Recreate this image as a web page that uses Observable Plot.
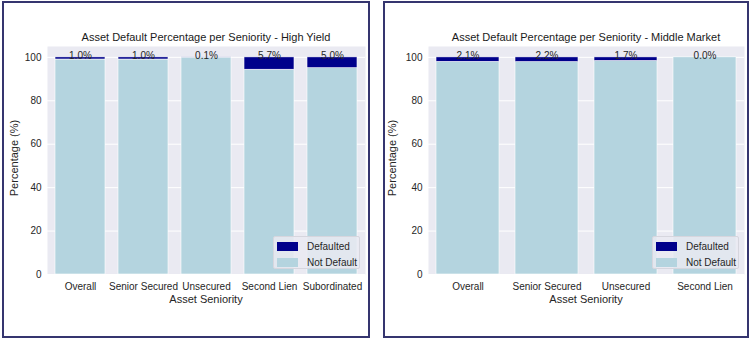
<!DOCTYPE html>
<html>
<head>
<meta charset="utf-8">
<script src="https://cdn.jsdelivr.net/npm/d3@7"></script>
<script src="https://cdn.jsdelivr.net/npm/@observablehq/plot@0.6"></script>
<style>
  html, body { margin: 0; padding: 0; background: #fff; }
  #root { position: relative; width: 752px; height: 340px; overflow: hidden; font-family: "Liberation Sans", Arial, sans-serif; }
  .panel { position: absolute; box-sizing: border-box; border: 2px solid #35356f; }
  .chart { position: absolute; top: 0; }
  .title { position: absolute; font-size: 11px; color: #1a1a1a; white-space: nowrap; transform: translate(-50%, -50%); }
  .xlabel { position: absolute; font-size: 11px; color: #262626; white-space: nowrap; transform: translate(-50%, -50%); }
  .ylabel { position: absolute; font-size: 11px; color: #262626; white-space: nowrap; transform: translate(-50%, -50%) rotate(-90deg); }
  .legend { position: absolute; box-sizing: border-box; width: 87px; height: 33px; background: rgba(234,234,242,0.85); border: 1px solid #d6d6de; border-radius: 2px; font-size: 10px; color: #262626; }
  .legend .row { position: absolute; left: 3px; height: 12px; display: flex; align-items: center; }
  .legend .sw { width: 21px; height: 9px; margin-right: 9px; }
</style>
</head>
<body>
<div id="root"></div>
<script>
// ---- data ----
const hyCategories = ["Overall", "Senior Secured", "Unsecured", "Second Lien", "Subordinated"];
const hyDefaulted = [1.0, 1.0, 0.1, 5.7, 5.0];
const mmCategories = ["Overall", "Senior Secured", "Unsecured", "Second Lien"];
const mmDefaulted = [2.1, 2.2, 1.7, 0.0];
const yTicks = [0, 20, 40, 60, 80, 100];
const statuses = ["Defaulted", "Not Default"];
const statusColors = ["#00008b", "#b4d4df"];
const titles = ["Asset Default Percentage per Seniority - High Yield", "Asset Default Percentage per Seniority - Middle Market"];
const xLabel = "Asset Seniority";
const yLabel = "Percentage (%)";

const root = document.getElementById("root");

function makePanel(cats, vals, title, cfg) {
  const rows = [];
  cats.forEach((c, i) => {
    rows.push({cat: c, status: "Not Default", value: 100 - vals[i]});
    rows.push({cat: c, status: "Defaulted", value: vals[i]});
  });
  const labels = cats.map((c, i) => ({cat: c, top: 100, text: vals[i].toFixed(1) + "%"}));

  const panel = document.createElement("div");
  panel.className = "panel";
  Object.assign(panel.style, {left: cfg.boxLeft + "px", top: "1px", width: cfg.boxWidth + "px", height: "337px"});
  root.appendChild(panel);

  const svg = Plot.plot({
    width: 376,
    height: 340,
    marginLeft: cfg.marginLeft,
    marginRight: cfg.marginRight,
    marginTop: 46,
    marginBottom: 66,
    style: {fontFamily: "'Liberation Sans', Arial, sans-serif", fontSize: "10px", color: "#262626", background: "transparent", overflow: "visible"},
    x: {domain: cats, paddingInner: 0.2, paddingOuter: 0.1, align: 0.5, tickSize: 0, tickPadding: 8, label: null},
    y: {domain: [0, 105], ticks: yTicks, tickSize: 0, tickPadding: 6, label: null},
    color: {domain: statuses, range: statusColors},
    marks: [
      Plot.frame({fill: "#eaeaf2", stroke: null}),
      Plot.ruleY(yTicks, {stroke: "white", strokeWidth: 1}),
      Plot.barY(rows, {x: "cat", y: "value", fill: "status", stroke: "white", strokeWidth: 0.6}),
      Plot.text(labels, {x: "cat", y: "top", text: "text", lineAnchor: "bottom", dy: 2, fill: "#262626", fontSize: 10})
    ]
  });
  svg.classList.add("chart");
  svg.style.left = cfg.offset + "px";
  root.appendChild(svg);

  const plotLeft = cfg.offset + cfg.marginLeft;
  const plotRight = cfg.offset + 376 - cfg.marginRight;
  const cx = (plotLeft + plotRight) / 2;

  const t = document.createElement("div");
  t.className = "title"; t.textContent = title;
  Object.assign(t.style, {left: cx + "px", top: "37px"});
  root.appendChild(t);

  const xl = document.createElement("div");
  xl.className = "xlabel"; xl.textContent = xLabel;
  Object.assign(xl.style, {left: cx + "px", top: "299px"});
  root.appendChild(xl);

  const yl = document.createElement("div");
  yl.className = "ylabel"; yl.textContent = yLabel;
  Object.assign(yl.style, {left: (plotLeft - cfg.yLabelGap) + "px", top: "158px"});
  root.appendChild(yl);

  const lg = document.createElement("div");
  lg.className = "legend";
  Object.assign(lg.style, {left: (plotRight - 5 - 87) + "px", top: "236px"});
  statuses.forEach((s, i) => {
    const r = document.createElement("div");
    r.className = "row";
    r.style.top = (3 + i * 16) + "px";
    const sw = document.createElement("span");
    sw.className = "sw"; sw.style.background = statusColors[i];
    const tx = document.createElement("span");
    tx.textContent = s;
    r.appendChild(sw); r.appendChild(tx);
    lg.appendChild(r);
  });
  root.appendChild(lg);
}

makePanel(hyCategories, hyDefaulted, titles[0], {offset: 0, marginLeft: 47, marginRight: 11, boxLeft: 2, boxWidth: 368, yLabelGap: 33});
makePanel(mmCategories, mmDefaulted, titles[1], {offset: 376, marginLeft: 52, marginRight: 8, boxLeft: 383, boxWidth: 366, yLabelGap: 36});
</script>
</body>
</html>
